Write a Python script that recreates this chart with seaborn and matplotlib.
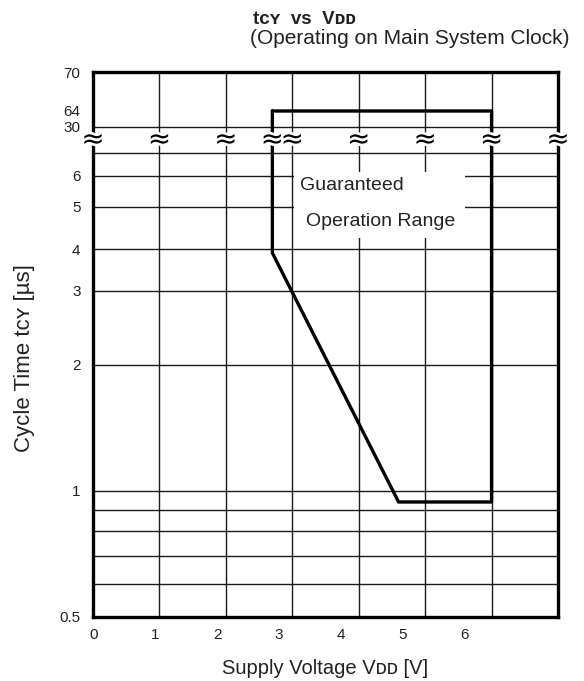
import numpy as np
import matplotlib
matplotlib.use("Agg")
import matplotlib.pyplot as plt
import matplotlib.patheffects as pe
from matplotlib.patches import Rectangle
import seaborn as sns

# ---------------- data ----------------
BOX_VDD = [2.7, 6.0, 6.0, 4.6, 2.7, 2.7]          # guaranteed operation range outline (V)
BOX_TCY = [64, 64, 0.94, 0.94, 3.9, 64]            # cycle time (us)
X_TICK_LABELS = ["0", "1", "2", "3", "4", "5", "6"]
Y_TICKS = [0.5, 1, 2, 3, 4, 5, 6, 30, 64, 70]
Y_TICK_LABELS = ["0.5", "1", "2", "3", "4", "5", "6", "30", "64", "70"]
V_GRID = [1, 2, 3, 4, 5, 6]
H_GRID = [0.6, 0.7, 0.8, 0.9, 1, 2, 3, 4, 5, 6, 6.5, 30]
BREAK_X = [0, 1, 2, 2.7, 3, 4, 5, 6, 7]

# broken, hand-drawn log axis: values and their heights above the bottom edge (px)
Y_KNOTS = np.array([0.5, 1, 2, 3, 4, 5, 6, 6.5, 30, 64, 70])
U_KNOTS = np.array([0, 126.3, 252, 326, 367.7, 410.3, 441.3, 464.3, 490.3, 506, 545])
LY = np.log10(Y_KNOTS)


def fwd(y):
    y = np.asarray(y, dtype=float)
    y = np.where(y > 0, y, 1e-6)
    return np.interp(np.log10(y), LY, U_KNOTS)


def inv(u):
    u = np.asarray(u, dtype=float)
    return 10 ** np.interp(u, U_KNOTS, LY)


sns.set_theme(style="white")
plt.rcParams["font.family"] = ["Liberation Sans", "DejaVu Sans"]
TXT = "#222222"

W, H = 584, 681
fig = plt.figure(figsize=(W / 100, H / 100), dpi=100)
L, R, T, B = 93, 558, 72, 617
ax = fig.add_axes([L / W, 1 - B / H, (R - L) / W, (B - T) / H])

ax.set_yscale("function", functions=(fwd, inv))
ax.set_xlim(0, 7)
ax.set_ylim(0.5, 70)

# grid
for v in V_GRID:
    ax.axvline(v, color="#1a1a1a", lw=1.0, zorder=1)
for h in H_GRID:
    ax.axhline(h, color="#1a1a1a", lw=1.0, zorder=1)

# white label area
ax.add_patch(Rectangle((3.03, 4.24), 5.6 - 3.03, 6.08 - 4.24,
                       facecolor="white", edgecolor="none", zorder=2))

# guaranteed range outline
sns.lineplot(x=BOX_VDD, y=BOX_TCY, sort=False, estimator=None, ax=ax,
             color="black", lw=2.4, zorder=4)

ax.text(3.116, 5.65, "Guaranteed", fontsize=14, color=TXT, va="center", ha="left", zorder=5)
ax.text(3.21, 4.62, "Operation Range", fontsize=14, color=TXT, va="center", ha="left", zorder=5)

# axis break marks
y_break = np.sqrt(6.5 * 30)
for xb in BREAK_X:
    ax.text(xb, y_break, "≈", fontsize=20, family="DejaVu Sans", color="black",
            ha="center", va="center", zorder=6, clip_on=False,
            path_effects=[pe.withStroke(linewidth=4, foreground="white")])

# ticks
ax.set_xticks(np.arange(len(X_TICK_LABELS)) * 0.93 + 0.01)
ax.set_xticklabels(X_TICK_LABELS, fontsize=11, color=TXT)
ax.set_yticks(Y_TICKS)
ax.set_yticklabels(Y_TICK_LABELS, fontsize=11, color=TXT)
ax.set_yticks([64], minor=True)
ax.set_xticks([], minor=True)
ax.tick_params(axis="both", which="major", length=0)
ax.tick_params(axis="x", which="major", pad=8)
ax.tick_params(axis="y", which="major", pad=9)
ax.tick_params(axis="y", which="minor", direction="in", length=6, width=1.2,
               left=True, color="black")

for s in ax.spines.values():
    s.set_color("black")
    s.set_linewidth(2.4)
    s.set_zorder(5)

ax.set_xlabel("Supply Voltage Vᴅᴅ [V]", fontsize=14.5, color=TXT)
ax.set_ylabel("Cycle Time tᴄʏ [µs]", fontsize=16, color=TXT)
ax.xaxis.set_label_coords(0.5, -0.077)
ax.yaxis.set_label_coords(-0.125, 0.475)

fig.text(253 / W, 1 - 19 / H, "tᴄʏ  vs  Vᴅᴅ", fontsize=13.5, fontweight="bold",
         color=TXT, ha="left", va="center")
fig.text(250 / W, 1 - 39 / H, "(Operating on Main System Clock)", fontsize=15,
         color=TXT, ha="left", va="center")

fig.savefig("out.png", dpi=100)
